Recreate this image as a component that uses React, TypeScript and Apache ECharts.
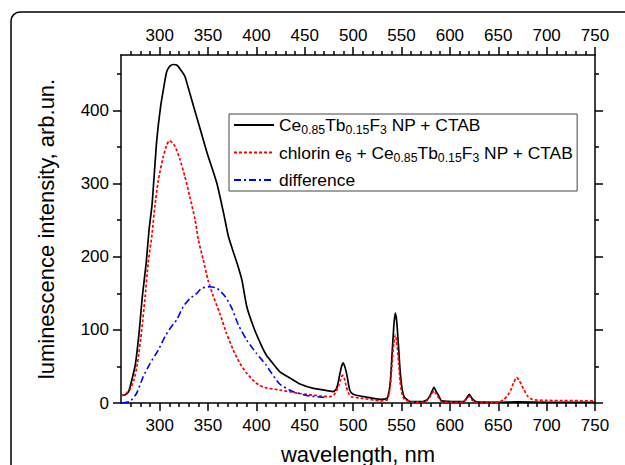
import React, { useEffect, useRef } from "react";
import * as echarts from "echarts";

// ---- data ----
const NAME_BLACK = "Ce0.85Tb0.15F3 NP + CTAB";
const NAME_RED = "chlorin e6 + Ce0.85Tb0.15F3 NP + CTAB";
const NAME_BLUE = "difference";

const BLACK_WL = [260,264,268,272,275,279,282,286,289,292,294.5,297,301,304,307,310,314,318,322,326,330,335,342,349,359,366,371,375,380,385,390,397,404,410,414,424,435,445,459,473,479,482,484,486,488,489.7,492,494,496,498,502,514,528,535,537,538.5,540,542,543.5,545,547,548.5,550.5,553,559,572,576,578,580.2,583.6,586,588,591.5,610,614,617,620,623,627.5,650,670,700,750];
const BLACK_I = [10.5,11,16,36,54,100,145,191,237,270,315,360,406,430,452,460,463,462,455,447,429,406,374,342,301,260,228,211,191,168,132,104,82,66,59,43,34,26,20,17,15.5,18,25,38,50,55,47,35,20,14,11,8,5,6.5,15,30,62,105,123,112,75,45,20,8,2,2,4,7,12,21.5,15,11,3,2,2,6,12,6,1.5,1,1.5,1,1];

const RED_WL = [260,263,266,269,273.4,277,281.4,285,288,292,295,298.6,303.7,307,310,313,316,321,326,331,336.5,340,345,350,355.4,362,369,376,383,390,400,409,424,445,466,476,480,483,485,487,489,491,493,495,498,510,528,535,537,538.5,540,542,543.5,545,547,548.5,550.5,553,559,572,576,578,580.2,583.6,586,588,591.5,610,614,617,620,623,627.5,645,652,656,660,663,666,669,672,676.6,680,685,690,700,750];
const RED_I = [10,11,14,18,31.5,54,100,146,191,230,269,305,337,352,359,356,351,333,310,283,251,223,196,168,146,123,95.5,72.6,54,40.7,27,21,17.8,13,9.6,8.6,11,17,24,32,38,33,22,14,8.6,6.4,3,4,12,25,50,82,93,85,55,30,12,5,2,1,3,6,10,17,12,8,2,1,2,5,9,4,1,1,2,5,11,18,28,35,30,18,10,5,4,3.5,3];

const BLUE_WL = [261,269,276,283,290,298.6,305.5,310.7,317.6,324.4,331.3,338.3,343.4,352,359,367.5,374.4,381.3,390,400,405,410,415,424,438,455,469,473];
const BLUE_I = [0,2,13,36,54,72.6,91,102,114,132,143,150,157,159,157,146,130,107,86,68,60,52,42,26,15.5,9.6,7.8,7];

const X_MAJOR = [300,350,400,450,500,550,600,650,700,750];
const X_MINOR = [270,280,290,310,320,330,340,360,370,380,390,410,420,430,440,460,470,480,490,510,520,530,540,560,570,580,590,610,620,630,640,660,670,680,690,710,720,730,740];
const Y_MAJOR = [0,100,200,300,400];
const Y_MINOR = [50,150,250,350,450];

const LEGEND_RICH: Record<string, string> = {
  [NAME_BLACK]: "{n|Ce}{s|0.85}{n|Tb}{s|0.15}{n|F}{s|3}{n| NP + CTAB}",
  [NAME_RED]: "{n|chlorin e}{s|6}{n| + Ce}{s|0.85}{n|Tb}{s|0.15}{n|F}{s|3}{n| NP + CTAB}",
  [NAME_BLUE]: "{n|difference}",
};

const pairs = (xs: number[], ys: number[]) => xs.map((x, i) => [x, ys[i]]);

const FONT = "'Liberation Sans', Arial, sans-serif";
const AXIS_LINE = { color: "#000", width: 1.5 };

export default function App() {
  const ref = useRef<HTMLDivElement>(null);
  useEffect(() => {
    if (!ref.current) return;
    const chart = echarts.init(ref.current, undefined, { renderer: "svg" });
    const xBase = { type: "value", min: 260, max: 750, splitLine: { show: false } };
    const yBase = { type: "value", min: 0, max: 476, splitLine: { show: false } };
    const labelStyle = { fontSize: 17, color: "#000", fontFamily: FONT };
    const majorX = (pos: string, labelMargin: number, extra: any = {}) => ({
      ...xBase,
      position: pos,
      axisLine: { show: true, onZero: false, lineStyle: AXIS_LINE },
      axisTick: { show: true, customValues: X_MAJOR, length: 8, lineStyle: AXIS_LINE },
      axisLabel: { show: true, customValues: X_MAJOR, margin: labelMargin, ...labelStyle },
      ...extra,
    });
    const minorX = (pos: string) => ({
      ...xBase,
      position: pos,
      axisLine: { show: false, onZero: false },
      axisTick: { show: true, customValues: X_MINOR, length: 4, lineStyle: AXIS_LINE },
      axisLabel: { show: false },
    });
    const majorY = (pos: string, showLabel: boolean, extra: any = {}) => ({
      ...yBase,
      position: pos,
      axisLine: { show: true, onZero: false, lineStyle: AXIS_LINE },
      axisTick: { show: true, customValues: Y_MAJOR, length: 8, lineStyle: AXIS_LINE },
      axisLabel: showLabel
        ? { show: true, customValues: Y_MAJOR, margin: 12, ...labelStyle }
        : { show: false },
      ...extra,
    });
    const minorY = (pos: string) => ({
      ...yBase,
      position: pos,
      axisLine: { show: false, onZero: false },
      axisTick: { show: true, customValues: Y_MINOR, length: 4, lineStyle: AXIS_LINE },
      axisLabel: { show: false },
    });

    chart.setOption({
      animation: false,
      backgroundColor: "#fff",
      grid: {
        left: 121,
        right: 30,
        top: 55,
        bottom: 62,
        containLabel: false,
        outerBoundsMode: "none",
      },
      graphic: [
        {
          type: "rect",
          x: 11,
          y: 12,
          shape: { x: 0, y: 0, width: 720, height: 520, r: 9 },
          style: { fill: "none", stroke: "#000", lineWidth: 1.5 },
          z: -10,
          silent: true,
        },
      ],
      legend: {
        orient: "vertical",
        left: 229,
        top: 114,
        padding: [0, 4, 0, 4],
        itemWidth: 40,
        itemHeight: 14,
        itemGap: 5.5,
        borderColor: "#444",
        borderWidth: 1,
        selectedMode: false,
        itemStyle: { opacity: 0 },
        data: [NAME_BLACK, NAME_RED, NAME_BLUE],
        formatter: (name: string) => LEGEND_RICH[name] ?? name,
        textStyle: {
          fontFamily: FONT,
          color: "#000",
          fontSize: 17.4,
          lineHeight: 22,
          rich: {
            n: { fontFamily: FONT, color: "#000", fontSize: 17.4, lineHeight: 22 },
            s: { fontFamily: FONT, color: "#000", fontSize: 12.3, lineHeight: 12, verticalAlign: "bottom" },
          },
        },
      },
      xAxis: [
        majorX("bottom", 14, {
          name: "wavelength, nm",
          nameLocation: "middle",
          nameGap: 40,
          nameTextStyle: { fontSize: 22, fontFamily: FONT, color: "#000" },
        }),
        minorX("bottom"),
        majorX("top", 11),
        minorX("top"),
      ],
      yAxis: [
        majorY("left", true, {
          name: "luminescence intensity, arb.un.",
          nameLocation: "middle",
          nameGap: 64,
          nameTextStyle: { fontSize: 22, fontFamily: FONT, color: "#000" },
        }),
        minorY("left"),
        majorY("right", false),
        minorY("right"),
      ],
      series: [
        {
          name: NAME_BLACK,
          type: "line",
          symbol: "none",
          smooth: 0.2,
          data: pairs(BLACK_WL, BLACK_I),
          lineStyle: { color: "#000", width: 1.7, type: "solid" },
          itemStyle: { color: "#000" },
        },
        {
          name: NAME_RED,
          type: "line",
          symbol: "none",
          smooth: 0.2,
          data: pairs(RED_WL, RED_I),
          lineStyle: { color: "#ff0000", width: 1.7, type: [3, 2] },
          itemStyle: { color: "#ff0000" },
        },
        {
          name: NAME_BLUE,
          type: "line",
          symbol: "none",
          smooth: 0.2,
          data: pairs(BLUE_WL, BLUE_I),
          lineStyle: { color: "#0000ff", width: 1.6, type: [7, 3, 2, 3] },
          itemStyle: { color: "#0000ff" },
        },
      ],
    } as any);
    return () => chart.dispose();
  }, []);
  return (
    <div
      ref={ref}
      style={{ position: "fixed", left: 0, top: 0, width: 625, height: 465, background: "#fff" }}
    />
  );
}
